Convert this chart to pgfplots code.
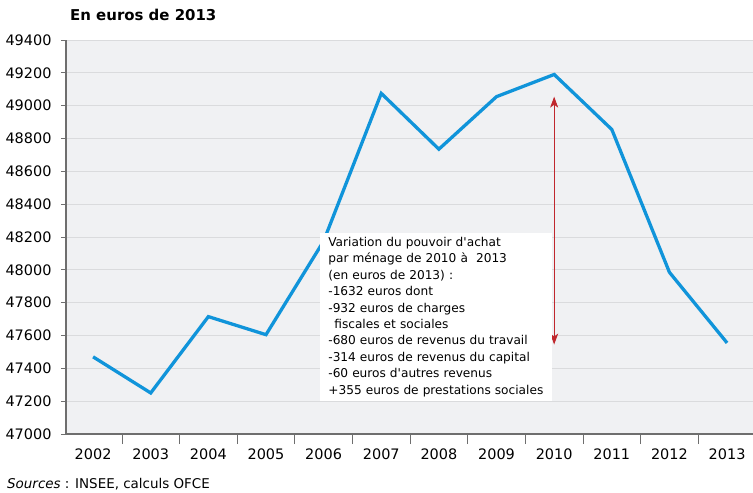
\documentclass[border=0pt]{standalone}
\usepackage{pgfplots}
\pgfplotsset{compat=1.18}
\usetikzlibrary{arrows.meta}
\usepackage{fontspec}
\setmainfont{DejaVu Sans}
\definecolor{lineblue}{RGB}{16,148,218}
\definecolor{arrowred}{RGB}{192,39,45}
\definecolor{bgray}{RGB}{240,241,243}
\definecolor{gridgray}{RGB}{218,219,221}
\definecolor{axgray}{RGB}{110,110,110}
\begin{document}
\begin{tikzpicture}
\begin{axis}[
  at={(0,0)}, anchor=south west,
  scale only axis, width=687bp, height=394bp,
  xmin=-0.47, xmax=11.45, ymin=47000, ymax=49400,
  axis background/.style={fill=bgray},
  axis x line*=bottom, axis y line*=left,
  x axis line style={draw=axgray, line width=1.5pt, -},
  y axis line style={draw=axgray, line width=1.2pt, -},
  xtick={0,...,11},
  xticklabels={2002,2003,2004,2005,2006,2007,2008,2009,2010,2011,2012,2013},
  minor xtick={0.5,1.5,...,10.5},
  x tick style={draw=none},
  minor x tick style={draw=axgray, line width=0.8pt},
  xtick align=outside, minor tick length=10bp,
  ytick={47000,47200,...,49400},
  scaled y ticks=false,
  y tick style={draw=axgray, line width=0.8pt},
  ytick align=outside, major tick length=5bp,
  ymajorgrids, grid style={gridgray, line width=0.8pt},
  y tick label style={font=\fontsize{14.5}{14}\selectfont, xshift=-6bp},
  x tick label style={font=\fontsize{14.5}{14}\selectfont, yshift=-6bp},
  yticklabel style={/pgf/number format/.cd, fixed, precision=0, 1000 sep={}},
  /pgf/number format/assume math mode=true,
  /pgf/number format/1000 sep={},
  clip=false,
]
\addplot[lineblue, line width=3.3pt, line join=miter] coordinates {
(0,47470) (1,47250) (2,47715) (3,47605) (4,48175) (5,49075)
(6,48735) (7,49055) (8,49190) (9,48855) (10,47985) (11,47555)};
\addplot[arrowred, line width=0.9pt, {Stealth[length=11bp,width=8bp,inset=3bp]}-{Stealth[length=11bp,width=8bp,inset=3bp]}] coordinates {(8,49055) (8,47545)};
\node[fill=white, anchor=north west, inner xsep=8bp, inner ysep=4bp, text width=216bp, align=left,
  font=\fontsize{12.2}{16.5}\selectfont] at (axis cs:3.94,48225) {%
Variation du pouvoir d\textquotesingle achat\\
par ménage de 2010 à\ \ 2013\\
(en euros de 2013) :\\
-1632 euros dont\\
-932 euros de charges\\
\hspace*{6bp}fiscales et sociales\\
-680 euros de revenus du travail\\
-314 euros de revenus du capital\\
-60 euros d\textquotesingle autres revenus\\
+355 euros de prestations sociales};
\end{axis}
\node[anchor=base west, font=\bfseries\fontsize{15}{15}\selectfont, inner sep=0] at (4bp,413bp) {En euros de 2013};
\node[anchor=base west, font=\fontsize{13.5}{14}\selectfont, inner sep=0] at (-59bp,-54bp) {\itshape Sources\upshape\ : INSEE, calculs OFCE};
\pgfresetboundingbox
\path (-66bp,-59bp) rectangle (687bp,434bp);
\end{tikzpicture}
\end{document}
